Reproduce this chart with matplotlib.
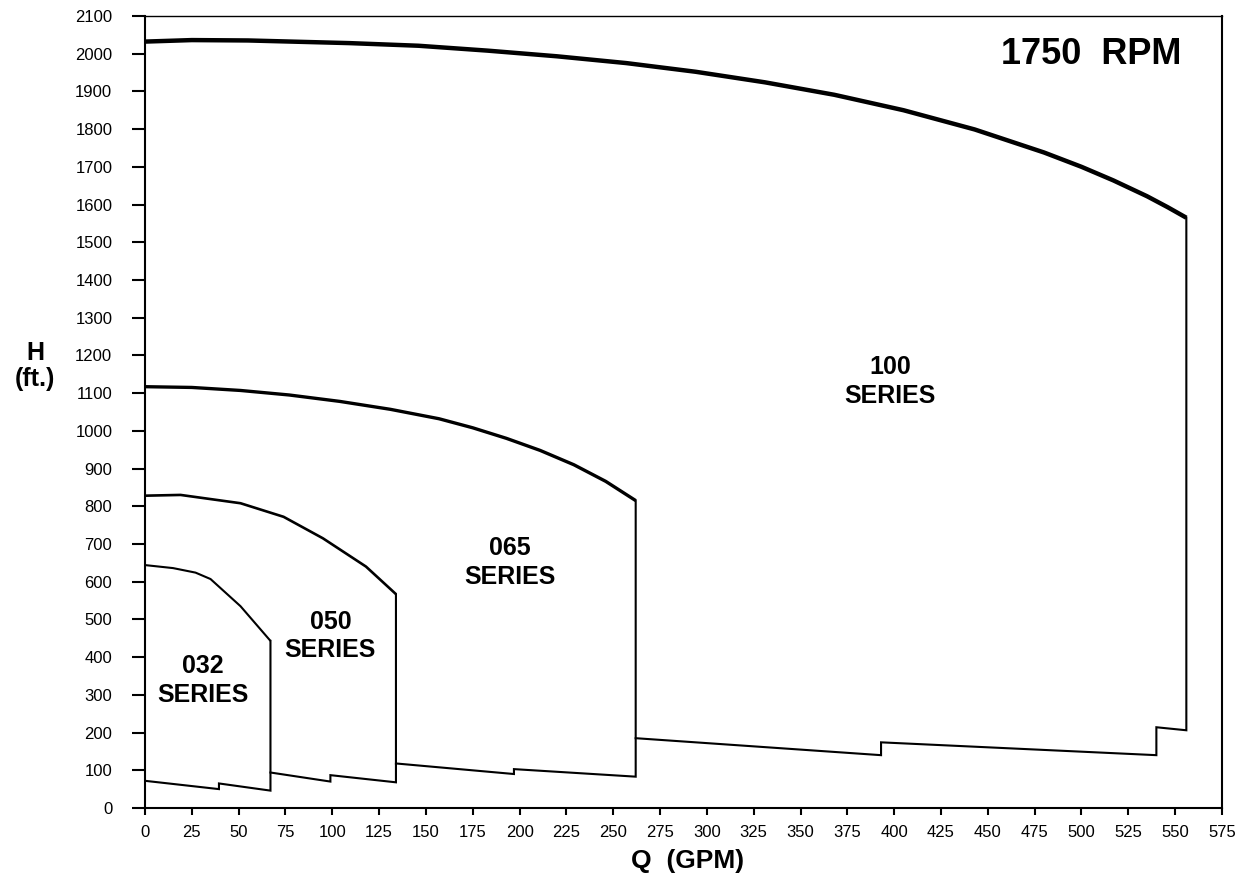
import matplotlib.pyplot as plt

plt.rcParams['font.family'] = ['Liberation Sans', 'DejaVu Sans']

# upper (max head) curves for each series
q_032_top = [0, 15, 27, 35, 51, 67]
h_032_top = [644, 636, 624, 607, 535, 443]
q_050_top = [0, 19, 51, 74, 95, 118, 134]
h_050_top = [828, 830, 808, 772, 715, 640, 567]
q_065_top = [0, 25, 51, 77, 104, 131, 157, 175, 193, 211, 229, 246, 262]
h_065_top = [1117, 1115, 1107, 1095, 1078, 1057, 1032, 1008, 980, 948, 910, 866, 815]
q_100_top = [0, 25, 55, 109, 146, 183, 220, 257, 294, 331, 368, 405, 443, 480, 500, 517, 535, 546, 556]
h_100_top = [2032, 2036, 2035, 2028, 2021, 2008, 1993, 1975, 1952, 1924, 1891, 1850, 1799, 1738, 1700, 1664, 1622, 1593, 1565]

# lower (min head) lines, left to right, with the small steps
q_032_bot = [0, 39.5, 39.5, 67]
h_032_bot = [72, 50, 65, 46]
q_050_bot = [67, 99, 99, 134]
h_050_bot = [94, 70, 87, 68]
q_065_bot = [134, 197, 197, 262]
h_065_bot = [118, 90, 103, 83]
q_100_bot = [262, 393, 393, 540, 540, 556]
h_100_bot = [185, 140, 174, 140, 214, 206]

series = [
    ('032', q_032_top, h_032_top, q_032_bot, h_032_bot, 1.5, (31, 337)),
    ('050', q_050_top, h_050_top, q_050_bot, h_050_bot, 1.9, (99, 456)),
    ('065', q_065_top, h_065_top, q_065_bot, h_065_bot, 2.4, (195, 650)),
    ('100', q_100_top, h_100_top, q_100_bot, h_100_bot, 3.2, (398, 1131)),
]

x_ticks = list(range(0, 576, 25))
y_ticks = list(range(0, 2101, 100))

fig = plt.figure(figsize=(12.53, 8.81), dpi=100)
ax = fig.add_axes([0.1157, 0.0829, 0.8595, 0.899])

for name, qt, ht, qb, hb, lw, pos in series:
    ax.plot(qt, ht, color='black', lw=lw, solid_capstyle='butt',
            solid_joinstyle='round')
    # right edge down to the bottom line, then back along the bottom
    edge_q = [qt[-1]] + qb[::-1]
    edge_h = [ht[-1]] + hb[::-1]
    ax.plot(edge_q, edge_h, color='black', lw=1.5, solid_joinstyle='miter')
    ax.text(pos[0], pos[1], name + '\nSERIES', ha='center', va='center',
            fontsize=18, fontweight='bold', linespacing=1.25)

ax.text(553.5, 1997, '1750  RPM', ha='right', va='center',
        fontsize=26, fontweight='bold')

ax.set_xlim(0, 575)
ax.set_ylim(0, 2100)
ax.set_xticks(x_ticks)
ax.set_yticks(y_ticks)
ax.tick_params(axis='y', length=9.5, width=1.5, pad=14, labelsize=12)
ax.tick_params(axis='x', length=5, width=1.5, pad=7, labelsize=12)
for s in ['left', 'bottom', 'right']:
    ax.spines[s].set_linewidth(1.5)
ax.spines['top'].set_linewidth(1.0)

fig.text(0.028, 0.585, 'H\n(ft.)', ha='center', va='center',
         fontsize=18, fontweight='bold', linespacing=1.1)
fig.text(0.549, 0.023, 'Q  (GPM)', ha='center', va='center',
         fontsize=19, fontweight='bold')

fig.savefig('out.png', dpi=100)
